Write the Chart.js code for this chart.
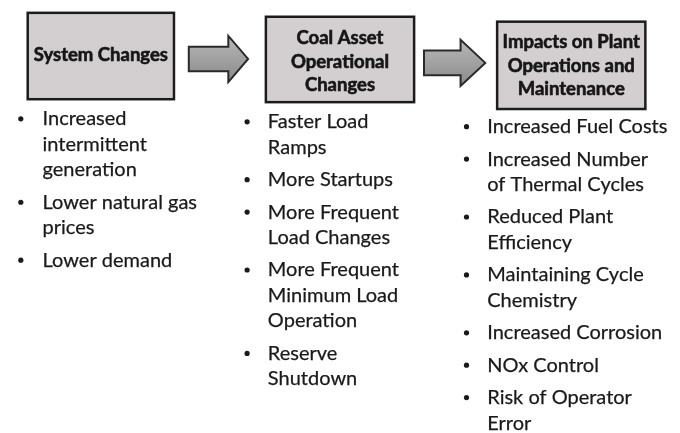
<!DOCTYPE html>
<html lang="en">
<head>
    <meta charset="UTF-8">
    <title>Coal Asset Flexibility Impacts</title>
    <style>
        body {
            margin: 0;
            background-color: #ffffff;
        }
        #flowChart {
            display: block;
        }
    </style>
</head>
<body>
    <canvas id="flowChart" width="680" height="433"></canvas>

    <script src="https://cdn.jsdelivr.net/npm/chart.js"></script>
    <script>
        // Box titles, one entry per column (lines split as in the picture)
        const boxTitles = [
            ['System Changes'],
            ['Coal Asset', 'Operational', 'Changes'],
            ['Impacts on Plant', 'Operations and', 'Maintenance']
        ];

        // Bullet items under each box
        const systemChanges = [
            ['Increased', 'intermittent', 'generation'],
            ['Lower natural gas', 'prices'],
            ['Lower demand']
        ];
        const operationalChanges = [
            ['Faster Load', 'Ramps'],
            ['More Startups'],
            ['More Frequent', 'Load Changes'],
            ['More Frequent', 'Minimum Load', 'Operation'],
            ['Reserve', 'Shutdown']
        ];
        const plantImpacts = [
            ['Increased Fuel Costs'],
            ['Increased Number', 'of Thermal Cycles'],
            ['Reduced Plant', 'Efficiency'],
            ['Maintaining Cycle', 'Chemistry'],
            ['Increased Corrosion'],
            ['NOx Control'],
            ['Risk of Operator', 'Error']
        ];
        const bulletLists = [systemChanges, operationalChanges, plantImpacts];

        // Layout of each column (page units, y grows downward)
        const columns = [
            { box: [24, 9, 172, 97], titleY: 52, bulletX: 17, textX: 39, firstY: 117 },
            { box: [265, 13, 415, 100], titleY: 35, bulletX: 246, textX: 267, firstY: 120 },
            { box: [499, 18, 649, 107], titleY: 39, bulletX: 468, textX: 489, firstY: 125 }
        ];
        // Arrows: [shaft start x, head start x, tip x, center y]
        const arrows = [
            [187, 227, 247, 56],
            [425, 462, 487, 60]
        ];
        const lineHeight = 26;
        const itemGap = 33;
        const titleLineHeight = 24;

        // Work out where each line of text sits
        const textLines = [];
        const bulletPoints = [];
        bulletLists.forEach((items, c) => {
            const col = columns[c];
            let y = col.firstY;
            items.forEach(lines => {
                bulletPoints.push({ x: col.bulletX, y: y });
                lines.forEach((line, i) => {
                    textLines.push({ x: col.textX, y: y + i * lineHeight, text: line });
                });
                y += (lines.length - 1) * lineHeight + itemGap;
            });
        });

        // Plugin that draws boxes, arrows and text through the chart's scales
        const diagramPlugin = {
            id: 'diagram',
            beforeDatasetsDraw(chart) {
                const ctx = chart.ctx;
                const xs = chart.scales.x;
                const ys = chart.scales.y;
                const px = v => xs.getPixelForValue(v);
                const py = v => ys.getPixelForValue(v);

                ctx.save();
                // boxes
                columns.forEach((col, c) => {
                    const [x0, y0, x1, y1] = col.box;
                    ctx.fillStyle = '#d3cfd1';
                    ctx.fillRect(px(x0), py(y0), px(x1) - px(x0), py(y1) - py(y0));
                    ctx.lineWidth = 2.5;
                    ctx.strokeStyle = '#1c1c1c';
                    ctx.strokeRect(px(x0), py(y0), px(x1) - px(x0), py(y1) - py(y0));

                    ctx.fillStyle = '#161616';
                    ctx.strokeStyle = '#161616';
                    ctx.lineWidth = 0.6;
                    ctx.font = 'bold 18.5px Lato';
                    ctx.textAlign = 'center';
                    ctx.textBaseline = 'middle';
                    boxTitles[c].forEach((t, i) => {
                        const tx = px((x0 + x1) / 2), ty = py(col.titleY + i * titleLineHeight);
                        ctx.fillText(t, tx, ty);
                        ctx.strokeText(t, tx, ty);
                    });
                });

                // arrows
                arrows.forEach(([xs0, xh, xt, yc]) => {
                    const shaft = 12.5, head = 23.5;
                    ctx.beginPath();
                    ctx.moveTo(px(xs0), py(yc - shaft));
                    ctx.lineTo(px(xh), py(yc - shaft));
                    ctx.lineTo(px(xh), py(yc - head));
                    ctx.lineTo(px(xt), py(yc));
                    ctx.lineTo(px(xh), py(yc + head));
                    ctx.lineTo(px(xh), py(yc + shaft));
                    ctx.lineTo(px(xs0), py(yc + shaft));
                    ctx.closePath();
                    const grad = ctx.createLinearGradient(0, py(yc - head), 0, py(yc + head));
                    grad.addColorStop(0, '#b8b8b8');
                    grad.addColorStop(1, '#8a8a8a');
                    ctx.fillStyle = grad;
                    ctx.fill();
                    ctx.lineWidth = 2;
                    ctx.lineJoin = 'miter';
                    ctx.strokeStyle = '#2a2a2a';
                    ctx.stroke();
                });

                // bullet text
                ctx.fillStyle = '#1a1a1a';
                ctx.strokeStyle = '#1a1a1a';
                ctx.lineWidth = 0.25;
                ctx.font = '20px Lato';
                ctx.textAlign = 'left';
                ctx.textBaseline = 'middle';
                textLines.forEach(t => {
                    ctx.fillText(t.text, px(t.x), py(t.y));
                    ctx.strokeText(t.text, px(t.x), py(t.y));
                });
                ctx.restore();
            }
        };

        const ctx = document.getElementById('flowChart').getContext('2d');
        new Chart(ctx, {
            type: 'scatter',
            data: {
                datasets: [{
                    label: 'Bullets',
                    data: bulletPoints,
                    pointStyle: 'circle',
                    pointRadius: 2.6,
                    backgroundColor: '#1a1a1a',
                    borderWidth: 0
                }]
            },
            options: {
                responsive: false,
                animation: false,
                devicePixelRatio: 1,
                layout: { padding: 0 },
                scales: {
                    x: { type: 'linear', min: 0, max: 680, display: false },
                    y: { type: 'linear', min: 0, max: 433, reverse: true, display: false }
                },
                plugins: {
                    legend: { display: false },
                    tooltip: { enabled: false }
                }
            },
            plugins: [diagramPlugin]
        });
    </script>
</body>
</html>
